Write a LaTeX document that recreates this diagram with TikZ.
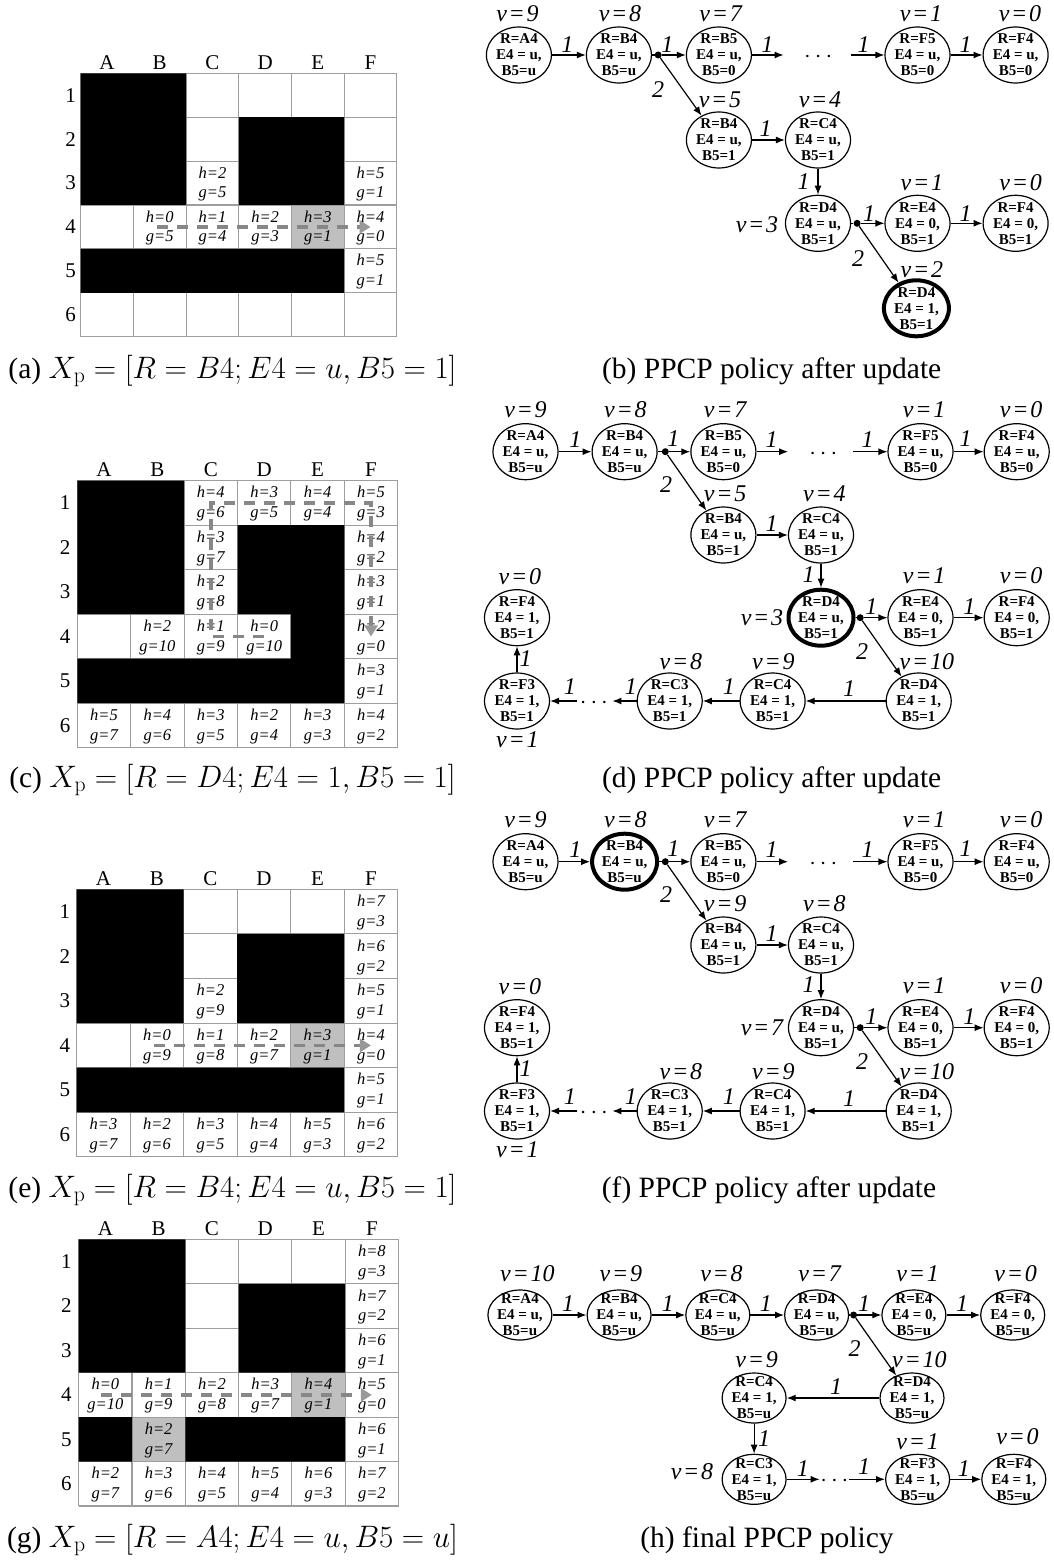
\RequirePackage{fix-cm}
\documentclass[tikz,border=0pt]{standalone}
\usepackage[no-math]{fontspec}
\setmainfont{Liberation Serif}
\usetikzlibrary{arrows.meta,shapes.geometric}

\tikzset{
 gline/.style={draw=black!38, line width=1.1pt},
 gcell/.style={fill=black!25},
 blk/.style={fill=black},
 ctext/.style={font=\fontsize{16.5}{18}\selectfont\itshape, inner sep=0pt},
 collbl/.style={font=\fontsize{21}{22}\selectfont, inner sep=0pt},
 route/.style={draw=black!47, line width=3.8pt, dash pattern=on 11pt off 9pt,
   -{Triangle[length=11pt,width=13pt,color=black!40]}},
 st/.style={draw, ellipse, minimum width=65pt, minimum height=56pt, inner sep=0pt, line width=1.2pt},
 bst/.style={st, line width=4pt},
 sth/.style={st, minimum width=64pt, minimum height=50pt},
 stt/.style={font=\fontsize{15}{16}\selectfont\bfseries, align=center, inner sep=0pt},
 vl/.style={font=\fontsize{24}{24}\selectfont\itshape, inner sep=0pt},
 el/.style={font=\fontsize{24}{24}\selectfont\itshape, inner sep=0pt},
 arr/.style={-{Latex[length=9pt,width=7pt]}, line width=1.2pt},
 ln/.style={line width=1.2pt},
 bdot/.style={circle, fill, inner sep=0pt, minimum size=7pt},
 dotsty/.style={font=\fontsize{24}{24}\selectfont, inner sep=0pt},
 captxt/.style={font=\fontsize{29.5}{34}\selectfont, inner sep=0pt},
}

\newcommand\vv[1]{v\kern1.8pt=\kern1.8pt#1}
\newcommand\capmath[1]{{\fontsize{31}{34}\selectfont$#1$}}
% grid lines in cell units
\newcommand\gridlines{%
 \foreach \k in {0,...,6} {\draw[gline] (\k,0) -- (\k,6); \draw[gline] (0,\k) -- (6,\k);}}
% cell text: prefix, col, row, h, g
\newcommand\hg[5]{%
 \node[ctext] (#1-#2-#3h) at ({#2-0.5},{#3-0.74}) {h=#4};
 \node[ctext] (#1-#2-#3g) at ({#2-0.5},{#3-0.25}) {g=#5};}
% grid labels
\newcommand\gridlabels[2]{%
 \foreach \c [count=\i] in {A,B,C,D,E,F} \node[collbl] (#1col\c) at ({\i-0.5},-0.24) {\c};
 \foreach \r in {1,...,6} \node[collbl] (#1row\r) at (#2,{\r-0.5}) {\r};}
% state node
\newcommand\stn[6][st]{%
 \node[#1] (#2) at (#3) {};
 \node[stt] (#2t) at (#2) {#4\\#5\\#6};}

% panels (d)/(f)
\newcommand\pdf[6]{%
 \stn{#1A4}{525.5,451.7}{R=A4}{E4 = u,}{B5=u}
 \stn[#2]{#1B4}{624.6,451.7}{R=B4}{E4 = u,}{B5=u}
 \node[bdot] (#1d1) at (665.3,451.7) {};
 \stn{#1B5}{723.4,451.7}{R=B5}{E4 = u,}{B5=0}
 \node[dotsty] (#1dt1) at (823.3,453.7) {$\cdots$};
 \stn{#1F5}{920.5,451.7}{R=F5}{E4 = u,}{B5=0}
 \stn{#1F4}{1016.7,451.7}{R=F4}{E4 = u,}{B5=0}
 \stn{#1B4b}{723.4,535}{R=B4}{E4 = u,}{B5=1}
 \stn{#1C4}{821,535}{R=C4}{E4 = u,}{B5=1}
 \stn[#3]{#1D4}{821,617.7}{R=D4}{E4 = u,}{B5=1}
 \node[bdot] (#1d2) at (860.2,617.7) {};
 \stn{#1E4}{920.5,617.7}{R=E4}{E4 = 0,}{B5=1}
 \stn{#1F4b}{1016.7,617.7}{R=F4}{E4 = 0,}{B5=1}
 \stn{#1D4b}{918.7,701}{R=D4}{E4 = 1,}{B5=1}
 \stn{#1C4b}{772.6,701}{R=C4}{E4 = 1,}{B5=1}
 \stn{#1C3}{669.7,701}{R=C3}{E4 = 1,}{B5=1}
 \node[dotsty] (#1dt2) at (593.9,703) {$\cdots$};
 \stn{#1F3}{517,701}{R=F3}{E4 = 1,}{B5=1}
 \stn{#1F4c}{517,617.7}{R=F4}{E4 = 1,}{B5=1}
 \coordinate (#1x1) at (788.1,451.7);
 \coordinate (#1x2) at (852.8,451.7);
 \coordinate (#1x3) at (612.4,701);
 \coordinate (#1x4) at (577.3,701);
 \draw[arr] (#1A4) -- (#1B4);
 \draw[ln] (#1B4) -- (#1d1);
 \draw[arr] (#1d1) -- (#1B5);
 \draw[arr] (#1d1) -- (#1B4b);
 \draw[arr] (#1B5) -- (#1x1);
 \draw[arr] (#1x2) -- (#1F5);
 \draw[arr] (#1F5) -- (#1F4);
 \draw[arr] (#1B4b) -- (#1C4);
 \draw[arr] (#1C4) -- (#1D4);
 \draw[ln] (#1D4) -- (#1d2);
 \draw[arr] (#1d2) -- (#1E4);
 \draw[arr] (#1E4) -- (#1F4b);
 \draw[arr] (#1d2) -- (#1D4b);
 \draw[arr] (#1D4b) -- (#1C4b);
 \draw[arr] (#1C4b) -- (#1C3);
 \draw[arr] (#1C3) -- (#1x3);
 \draw[arr] (#1x4) -- (#1F3);
 \draw[arr] (#1F3) -- (#1F4c);
 \node[el] (#1e1) at (575.4,440) {1};
 \node[el] (#1e2) at (673.4,438.3) {1};
 \node[el] (#1e3) at (666,485) {2};
 \node[el] (#1e4) at (771.5,440) {1};
 \node[el] (#1e5) at (867.6,440) {1};
 \node[el] (#1e6) at (965.7,438.3) {1};
 \node[el] (#1e7) at (771.5,523.3) {1};
 \node[el] (#1e8) at (808.5,575) {1};
 \node[el] (#1e9) at (871.3,606.7) {1};
 \node[el] (#1e10) at (862.1,651.7) {2};
 \node[el] (#1e11) at (969.4,606.7) {1};
 \node[el] (#1e12) at (849.2,688.3) {1};
 \node[el] (#1e13) at (728.9,686.7) {1};
 \node[el] (#1e14) at (630.9,686.7) {1};
 \node[el] (#1e15) at (569.9,686.7) {1};
 \node[el] (#1e16) at (525.5,658.3) {1};
 \node[vl] (#1v1) at (525.5,410) {\vv{9}};
 \node[vl] (#1v2) at (625.4,410) {\vv{8}};
 \node[vl] (#1v3) at (725.2,410) {\vv{7}};
 \node[vl] (#1v4) at (924.2,410) {\vv{1}};
 \node[vl] (#1v5) at (1021.2,410) {\vv{0}};
 \node[vl] (#1v6) at (725.2,493.3) {\vv{#4}};
 \node[vl] (#1v7) at (824.4,493.3) {\vv{#5}};
 \node[vl] (#1v8) at (762,617.7) {\vv{#6}};
 \node[vl] (#1v9) at (924.2,576) {\vv{1}};
 \node[vl] (#1v10) at (1021.2,576) {\vv{0}};
 \node[vl] (#1v11) at (519.9,576.7) {\vv{0}};
 \node[vl] (#1v12) at (926.8,661.7) {\vv{10}};
 \node[vl] (#1v13) at (773.3,661.7) {\vv{9}};
 \node[vl] (#1v14) at (680.8,661.7) {\vv{8}};
 \node[vl] (#1v15) at (517.3,740) {\vv{1}};
}

\begin{document}
\begin{tikzpicture}[x=1pt,y=-1pt]
\fill[white] (0,0) rectangle (1053,1562);
\useasboundingbox (0,0) rectangle (1053,1562);

%% ---------------- grid (a)
\begin{scope}[shift={(80.7,73.3)}, x=52.7pt, y=-43.9pt]
 \fill[gcell] (4,3) rectangle (5,4);
 \gridlines
 \fill[blk] (0,0) rectangle (2,3) (3,1) rectangle (5,3) (0,4) rectangle (5,5);
 \gridlabels{a}{-0.19}
 \hg{a}{3}{3}{2}{5} \hg{a}{6}{3}{5}{1}
 \hg{a}{2}{4}{0}{5} \hg{a}{3}{4}{1}{4} \hg{a}{4}{4}{2}{3} \hg{a}{5}{4}{3}{1} \hg{a}{6}{4}{4}{0}
 \hg{a}{6}{5}{5}{1}
 \coordinate (aps) at (1.45,3.5); \coordinate (ape) at (5.5,3.5);
 \draw[route] (aps) -- (ape);
\end{scope}

%% ---------------- grid (c)
\begin{scope}[shift={(77.3,480.7)}, x=53.4pt, y=-44.5pt]
 \gridlines
 \fill[blk] (0,0) rectangle (2,3) (3,1) rectangle (5,3) (4,3) rectangle (5,4) (0,4) rectangle (5,5);
 \gridlabels{c}{-0.23}
 \hg{c}{3}{1}{4}{6} \hg{c}{4}{1}{3}{5} \hg{c}{5}{1}{4}{4} \hg{c}{6}{1}{5}{3}
 \hg{c}{3}{2}{3}{7} \hg{c}{6}{2}{4}{2}
 \hg{c}{3}{3}{2}{8} \hg{c}{6}{3}{3}{1}
 \hg{c}{2}{4}{2}{10} \hg{c}{3}{4}{1}{9} \hg{c}{4}{4}{0}{10} \hg{c}{6}{4}{2}{0}
 \hg{c}{6}{5}{3}{1}
 \hg{c}{1}{6}{5}{7} \hg{c}{2}{6}{4}{6} \hg{c}{3}{6}{3}{5} \hg{c}{4}{6}{2}{4} \hg{c}{5}{6}{3}{3} \hg{c}{6}{6}{4}{2}
 \coordinate (cp1) at (3.5,3.5); \coordinate (cp2) at (2.5,3.5); \coordinate (cp3) at (2.5,0.5);
 \coordinate (cp4) at (5.5,0.5); \coordinate (cp5) at (5.5,3.5);
 \draw[route] (cp1) -- (cp2) -- (cp3) -- (cp4) -- (cp5);
\end{scope}

%% ---------------- grid (e)
\begin{scope}[shift={(76.7,889.3)}, x=53.5pt, y=-44.6pt]
 \fill[gcell] (4,3) rectangle (5,4);
 \gridlines
 \fill[blk] (0,0) rectangle (2,3) (3,1) rectangle (5,3) (0,4) rectangle (5,5);
 \gridlabels{e}{-0.22}
 \hg{e}{6}{1}{7}{3}
 \hg{e}{6}{2}{6}{2}
 \hg{e}{3}{3}{2}{9} \hg{e}{6}{3}{5}{1}
 \hg{e}{2}{4}{0}{9} \hg{e}{3}{4}{1}{8} \hg{e}{4}{4}{2}{7} \hg{e}{5}{4}{3}{1} \hg{e}{6}{4}{4}{0}
 \hg{e}{6}{5}{5}{1}
 \hg{e}{1}{6}{3}{7} \hg{e}{2}{6}{2}{6} \hg{e}{3}{6}{3}{5} \hg{e}{4}{6}{4}{4} \hg{e}{5}{6}{5}{3} \hg{e}{6}{6}{6}{2}
 \coordinate (eps) at (1.45,3.5); \coordinate (epe) at (5.5,3.5);
 \draw[route] (eps) -- (epe);
\end{scope}

%% ---------------- grid (g)
\begin{scope}[shift={(78.7,1239.3)}, x=53.3pt, y=-44.45pt]
 \fill[gcell] (4,3) rectangle (5,4) (1,4) rectangle (2,5);
 \gridlines
 \fill[blk] (0,0) rectangle (2,3) (3,1) rectangle (5,3) (0,4) rectangle (1,5) (2,4) rectangle (5,5);
 \gridlabels{g}{-0.23}
 \hg{g}{6}{1}{8}{3}
 \hg{g}{6}{2}{7}{2}
 \hg{g}{6}{3}{6}{1}
 \hg{g}{1}{4}{0}{10} \hg{g}{2}{4}{1}{9} \hg{g}{3}{4}{2}{8} \hg{g}{4}{4}{3}{7} \hg{g}{5}{4}{4}{1} \hg{g}{6}{4}{5}{0}
 \hg{g}{2}{5}{2}{7} \hg{g}{6}{5}{6}{1}
 \hg{g}{1}{6}{2}{7} \hg{g}{2}{6}{3}{6} \hg{g}{3}{6}{4}{5} \hg{g}{4}{6}{5}{4} \hg{g}{5}{6}{6}{3} \hg{g}{6}{6}{7}{2}
 \coordinate (gps) at (0.42,3.5); \coordinate (gpe) at (5.5,3.5);
 \draw[route] (gps) -- (gpe);
\end{scope}

%% ---------------- panel (b)
\stn{bA4}{518.9,55}{R=A4}{E4 = u,}{B5=u}
\stn{bB4}{618.9,55}{R=B4}{E4 = u,}{B5=u}
\node[bdot] (bd1) at (658.2,55) {};
\stn{bB5}{718.9,55}{R=B5}{E4 = u,}{B5=0}
\node[dotsty] (bdt) at (818.2,57) {$\cdots$};
\stn{bF5}{917.5,55}{R=F5}{E4 = u,}{B5=0}
\stn{bF4}{1015.6,55}{R=F4}{E4 = u,}{B5=0}
\stn{bB4b}{718.9,140}{R=B4}{E4 = u,}{B5=1}
\stn{bC4}{818,140}{R=C4}{E4 = u,}{B5=1}
\stn{bD4}{818,223.3}{R=D4}{E4 = u,}{B5=1}
\node[bdot] (bd2) at (857.1,223.3) {};
\stn{bE4}{917.5,223.3}{R=E4}{E4 = 0,}{B5=1}
\stn{bF4b}{1015.6,223.3}{R=F4}{E4 = 0,}{B5=1}
\stn[bst]{bD4b}{916.4,308.3}{R=D4}{E4 = 1,}{B5=1}
\coordinate (bx1) at (783.6,55);
\coordinate (bx2) at (850.9,55);
\draw[arr] (bA4) -- (bB4);
\draw[ln] (bB4) -- (bd1);
\draw[arr] (bd1) -- (bB5);
\draw[arr] (bd1) -- (bB4b);
\draw[arr] (bB5) -- (bx1);
\draw[arr] (bx2) -- (bF5);
\draw[arr] (bF5) -- (bF4);
\draw[arr] (bB4b) -- (bC4);
\draw[arr] (bC4) -- (bD4);
\draw[ln] (bD4) -- (bd2);
\draw[arr] (bd2) -- (bE4);
\draw[arr] (bE4) -- (bF4b);
\draw[arr] (bd2) -- (bD4b);
\node[el] (be1) at (567.3,45) {1};
\node[el] (be2) at (667.3,45) {1};
\node[el] (be3) at (658.2,90) {2};
\node[el] (be4) at (767.3,45) {1};
\node[el] (be5) at (863.6,45) {1};
\node[el] (be6) at (965.5,45) {1};
\node[el] (be7) at (765.5,128.3) {1};
\node[el] (be8) at (803.6,181.7) {1};
\node[el] (be9) at (869.1,213.3) {1};
\node[el] (be10) at (858.2,258.3) {2};
\node[el] (be11) at (965.5,213.3) {1};
\node[vl] (bv1) at (517.5,14) {\vv{9}};
\node[vl] (bv2) at (620,14) {\vv{8}};
\node[vl] (bv3) at (720.7,14) {\vv{7}};
\node[vl] (bv4) at (921,14) {\vv{1}};
\node[vl] (bv5) at (1020,14) {\vv{0}};
\node[vl] (bv6) at (720,100) {\vv{5}};
\node[vl] (bv7) at (820,100) {\vv{4}};
\node[vl] (bv8) at (757,225) {\vv{3}};
\node[vl] (bv9) at (921.8,182.7) {\vv{1}};
\node[vl] (bv10) at (1020.7,182.7) {\vv{0}};
\node[vl] (bv11) at (921.8,270) {\vv{2}};

%% ---------------- panels (d) and (f)
\pdf{d}{st}{bst}{5}{4}{3}
\begin{scope}[yshift=-410pt]
\pdf{f}{bst}{st}{9}{8}{7}
\end{scope}

%% ---------------- panel (h)
\stn[sth]{hA4}{519.9,1315}{R=A4}{E4 = u,}{B5=u}
\stn[sth]{hB4}{619.1,1315}{R=B4}{E4 = u,}{B5=u}
\stn[sth]{hC4}{717.8,1315}{R=C4}{E4 = u,}{B5=u}
\stn[sth]{hD4}{816.6,1315}{R=D4}{E4 = u,}{B5=u}
\node[bdot] (hd1) at (853.6,1315) {};
\stn[sth]{hE4}{913.9,1315}{R=E4}{E4 = 0,}{B5=u}
\stn[sth]{hF4}{1012.7,1315}{R=F4}{E4 = 0,}{B5=u}
\stn[sth]{hD4b}{912,1398}{R=D4}{E4 = 1,}{B5=u}
\stn[sth]{hC4b}{754.1,1398}{R=C4}{E4 = 1,}{B5=u}
\stn[sth]{hC3}{754.1,1479.3}{R=C3}{E4 = 1,}{B5=u}
\node[dotsty] (hdt) at (834.4,1481.3) {$\cdots$};
\stn[sth]{hF3}{917.6,1479.3}{R=F3}{E4 = 1,}{B5=u}
\stn[sth]{hF4b}{1013.8,1479.3}{R=F4}{E4 = 1,}{B5=u}
\coordinate (hx1) at (819.6,1479.3);
\coordinate (hx2) at (849.2,1479.3);
\draw[arr] (hA4) -- (hB4);
\draw[arr] (hB4) -- (hC4);
\draw[arr] (hC4) -- (hD4);
\draw[ln] (hD4) -- (hd1);
\draw[arr] (hd1) -- (hE4);
\draw[arr] (hE4) -- (hF4);
\draw[arr] (hd1) -- (hD4b);
\draw[arr] (hD4b) -- (hC4b);
\draw[arr] (hC4b) -- (hC3);
\draw[arr] (hC3) -- (hx1);
\draw[arr] (hx2) -- (hF3);
\draw[arr] (hF3) -- (hF4b);
\node[el] (he1) at (568,1303.3) {1};
\node[el] (he2) at (667.9,1303.3) {1};
\node[el] (he3) at (765.9,1303.3) {1};
\node[el] (he4) at (864,1303.3) {1};
\node[el] (he5) at (962,1303.3) {1};
\node[el] (he6) at (854.7,1348.3) {2};
\node[el] (he7) at (836.2,1386.7) {1};
\node[el] (he8) at (764.1,1438.3) {1};
\node[el] (he9) at (802.9,1468.3) {1};
\node[el] (he10) at (864,1466.7) {1};
\node[el] (he11) at (963.8,1468.3) {1};
\node[vl] (hv1) at (527.3,1273.3) {\vv{10}};
\node[vl] (hv2) at (620.9,1273.3) {\vv{9}};
\node[vl] (hv3) at (721.5,1273.3) {\vv{8}};
\node[vl] (hv4) at (819.6,1273.3) {\vv{7}};
\node[vl] (hv5) at (917.6,1273.3) {\vv{1}};
\node[vl] (hv6) at (1015.6,1273.3) {\vv{0}};
\node[vl] (hv7) at (919.4,1360) {\vv{10}};
\node[vl] (hv8) at (756.7,1360) {\vv{9}};
\node[vl] (hv9) at (692,1471.7) {\vv{8}};
\node[vl] (hv10) at (917.6,1441.7) {\vv{1}};
\node[vl] (hv11) at (1017.5,1436.7) {\vv{0}};

%% ---------------- captions
\node[captxt] (capa) at (232.5,371) {(a) \capmath{X_{\mathrm{p}} = [R = B4; E4 = u, B5 = 1]}};
\node[captxt] (capb) at (771.7,371) {(b) PPCP policy after update};
\node[captxt] (capc) at (232.5,780) {(c) \capmath{X_{\mathrm{p}} = [R = D4; E4 = 1, B5 = 1]}};
\node[captxt] (capd) at (771.7,780) {(d) PPCP policy after update};
\node[captxt] (cape) at (232.5,1190) {(e) \capmath{X_{\mathrm{p}} = [R = B4; E4 = u, B5 = 1]}};
\node[captxt] (capf) at (769,1190) {(f) PPCP policy after update};
\node[captxt] (capg) at (232.5,1540) {(g) \capmath{X_{\mathrm{p}} = [R = A4; E4 = u, B5 = u]}};
\node[captxt] (caph) at (767,1540) {(h) final PPCP policy};
\end{tikzpicture}
\end{document}
